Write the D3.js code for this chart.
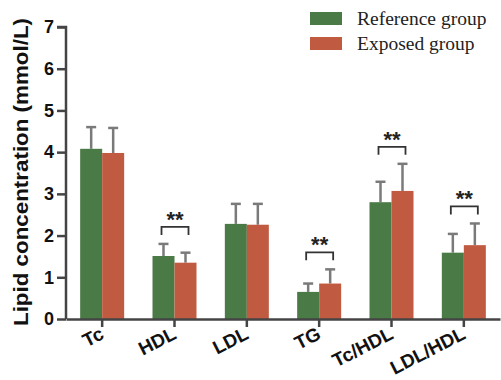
<!DOCTYPE html>
<html>
<head>
<meta charset="utf-8">
<title>lipid</title>
<script src="https://cdn.jsdelivr.net/npm/d3@7"></script>
<style>
  body { margin: 0; background: #fff; }
</style>
</head>
<body>
<script>
const categories = ["Tc", "HDL", "LDL", "TG", "Tc/HDL", "LDL/HDL"];
const groups = ["Reference group", "Exposed group"];
const refMean = [4.08, 1.51, 2.28, 0.65, 2.80, 1.59];
const refUpper = [4.60, 1.80, 2.76, 0.85, 3.29, 2.04];
const expMean = [3.98, 1.35, 2.26, 0.85, 3.07, 1.77];
const expUpper = [4.58, 1.59, 2.76, 1.19, 3.72, 2.29];
const sigStars = ["", "**", "", "**", "**", "**"];
const yTicks = [0, 1, 2, 3, 4, 5, 6, 7];
const colors = ["#4a7a45", "#c05a40"];

const W = 501, H = 380;
const svg = d3.select("body").append("svg").attr("width", W).attr("height", H);

const x = d3.scaleBand().domain(categories).range([66, 500]);
const xg = d3.scaleBand().domain(groups).range([0, 44]);
const y = d3.scaleLinear().domain([0, 7]).range([319, 27]);

const means = [refMean, expMean];
const uppers = [refUpper, expUpper];

const bars = [];
groups.forEach(function(g, gi) {
  categories.forEach(function(c, ci) {
    bars.push({ cat: c, group: g, gi: gi, mean: means[gi][ci], upper: uppers[gi][ci] });
  });
});

function bx(d) { return x(d.cat) + x.bandwidth() / 2 - 22 + xg(d.group); }

// error bars (drawn first, stems start at bar top)
svg.selectAll(".stem").data(bars).enter().append("line")
  .attr("x1", d => bx(d) + xg.bandwidth() / 2)
  .attr("x2", d => bx(d) + xg.bandwidth() / 2)
  .attr("y1", d => y(d.mean))
  .attr("y2", d => y(d.upper))
  .attr("stroke", "#7a7a7a").attr("stroke-width", 2.5);
svg.selectAll(".cap").data(bars).enter().append("line")
  .attr("x1", d => bx(d) + xg.bandwidth() / 2 - 5)
  .attr("x2", d => bx(d) + xg.bandwidth() / 2 + 5)
  .attr("y1", d => y(d.upper))
  .attr("y2", d => y(d.upper))
  .attr("stroke", "#7a7a7a").attr("stroke-width", 2.5);

svg.selectAll(".bar").data(bars).enter().append("rect")
  .attr("x", d => bx(d))
  .attr("y", d => y(d.mean))
  .attr("width", xg.bandwidth())
  .attr("height", d => y(0) - y(d.mean))
  .attr("fill", d => colors[d.gi]);

// significance brackets
categories.forEach(function(c, ci) {
  if (!sigStars[ci]) return;
  const top = Math.min(y(refUpper[ci]), y(expUpper[ci])) - 17;
  const x1 = x(c) + x.bandwidth() / 2 - 13;
  const x2 = x(c) + x.bandwidth() / 2 + 14;
  svg.append("path")
    .attr("d", "M" + x1 + "," + (top + 8) + "V" + top + "H" + x2 + "V" + (top + 8))
    .attr("fill", "none").attr("stroke", "#333").attr("stroke-width", 1.8);
  svg.append("text")
    .attr("x", (x1 + x2) / 2).attr("y", top)
    .attr("text-anchor", "middle")
    .attr("font-family", "Liberation Sans, Arial, sans-serif")
    .attr("font-weight", "bold").attr("font-size", 22)
    .attr("fill", "#222")
    .text(sigStars[ci]);
});

// y axis
const yAxis = svg.append("g").attr("transform", "translate(66,0)")
  .call(d3.axisLeft(y).tickValues(yTicks).tickSize(9).tickPadding(3).tickFormat(d3.format("d")));
yAxis.select(".domain").attr("d", "M0," + y(7) + "H-9H0V" + y(0));

// x axis
const xAxis = svg.append("g").attr("transform", "translate(0,319)")
  .call(d3.axisBottom(x).tickSize(8).tickSizeOuter(0));

svg.selectAll(".domain, .tick line").attr("stroke", "#444").attr("stroke-width", 2.5);
svg.selectAll(".tick text")
  .attr("font-family", "Liberation Sans, Arial, sans-serif")
  .attr("font-weight", "bold").attr("font-size", 18).attr("fill", "#111");

xAxis.selectAll(".tick text")
  .attr("text-anchor", "end")
  .attr("x", 0).attr("y", 0).attr("dy", 0)
  .attr("font-size", 19)
  .attr("transform", "translate(3,19) rotate(-27)");

// y label
svg.append("text")
  .attr("transform", "translate(28,172) rotate(-90)")
  .attr("text-anchor", "middle")
  .attr("font-family", "Liberation Sans, Arial, sans-serif")
  .attr("font-weight", "bold").attr("font-size", 20).attr("fill", "#111")
  .attr("textLength", 308).attr("lengthAdjust", "spacingAndGlyphs")
  .text("Lipid concentration (mmol/L)");

// legend
const leg = svg.append("g");
groups.forEach(function(g, gi) {
  leg.append("rect").attr("x", 310).attr("y", 12 + gi * 25).attr("width", 32).attr("height", 13)
    .attr("fill", colors[gi]);
  leg.append("text").attr("x", 357).attr("y", 25 + gi * 25)
    .attr("font-family", "Liberation Serif, Times New Roman, serif")
    .attr("font-size", 19.5).attr("fill", "#222").text(g);
});
</script>
</body>
</html>
